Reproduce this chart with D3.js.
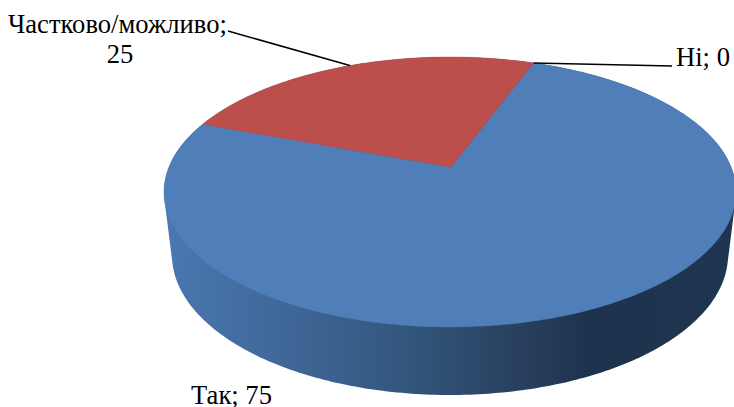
<!DOCTYPE html>
<html><head><meta charset="utf-8">
<script src="https://cdn.jsdelivr.net/npm/d3@7"></script>
<style>html,body{margin:0;padding:0;background:#fff}svg{display:block}text{font-family:"Liberation Serif",serif;font-size:26.6px;fill:#000}</style>
</head><body><svg id="c" width="734" height="407"></svg>
<script>
const categories = ["Так", "Частково/можливо", "Ні"];
const values = [75, 25, 0];
const colors = ["#4F7EB9", "#BC4F4C", "#9BBB59"];

const svg = d3.select("#c");
const W = 734, H = 407;
// perspective ellipses
const top_ = {cx: 450, cy: 192, rx: 286, ry: 135};
const bot = {cx: 450, cy: 255, rx: 278, ry: 140};
const p = -0.185, px = 0.0035;
const startAngle = 20.4 * Math.PI / 180;

const pie = d3.pie().sort(null).value(d => d)
  .startAngle(startAngle).endAngle(startAngle + 2 * Math.PI);
const arcs = pie(values);

// disc-preserving perspective: true angle -> point on tilted top ellipse
function project(a, r = 1) {
  const x = r * Math.sin(a), y = -r * Math.cos(a);
  const d = 1 + p * y;
  const yy = (y + p) / d, xx = x * Math.sqrt(1 - p * p) / d;
  return [top_.cx + top_.rx * (xx + px * (1 - r)), top_.cy + top_.ry * yy];
}
const ell = (e, n = 360) => d3.range(n).map(i => {
  const t = i / n * 2 * Math.PI;
  return [e.cx + e.rx * Math.cos(t), e.cy + e.ry * Math.sin(t)];
});

const defs = svg.append("defs");
const grad = defs.append("linearGradient").attr("id", "wall")
  .attr("gradientUnits", "userSpaceOnUse").attr("x1", 164).attr("x2", 734).attr("y1", 0).attr("y2", 0);
[[0, "#4A78B1"], [0.2, "#40689A"], [0.45, "#315479"], [0.62, "#29405F"], [0.75, "#1D324D"], [1, "#1F3650"]]
  .forEach(([o, c]) => grad.append("stop").attr("offset", o).attr("stop-color", c));

const line = d3.line();
svg.append("path")
  .attr("d", line(d3.polygonHull(ell(top_).concat(ell(bot)))) + "Z")
  .attr("fill", "url(#wall)");

arcs.forEach((d, i) => {
  if (d.endAngle - d.startAngle <= 0) return;
  const n = Math.ceil((d.endAngle - d.startAngle) / (Math.PI / 180));
  const rim = d3.range(n + 1).map(k => project(d.startAngle + (d.endAngle - d.startAngle) * k / n));
  svg.append("path")
    .attr("d", line([project(0, 0), ...rim]) + "Z")
    .attr("fill", colors[i]).attr("stroke", colors[i]).attr("stroke-width", 0.4);
});

// leader lines anchored on mid-angles
const mid = d => (d.startAngle + d.endAngle) / 2;
const leader = (d, to) => svg.append("path")
  .attr("d", line([project(mid(d)), to]))
  .attr("fill", "none").attr("stroke", "#000").attr("stroke-width", 1.5);
leader(arcs[1], [228, 31]);
leader(arcs[2], [672, 66]);

const label = (s, x, y, anchor = "start") => svg.append("text").attr("x", x).attr("y", y).attr("text-anchor", anchor).text(s);
label(categories[1] + ";", 8, 33);
label(String(values[1]), 120, 63, "middle");
label(categories[2] + "; " + values[2], 676, 66);
label(categories[0] + "; " + values[0], 191, 404);
</script></body></html>
